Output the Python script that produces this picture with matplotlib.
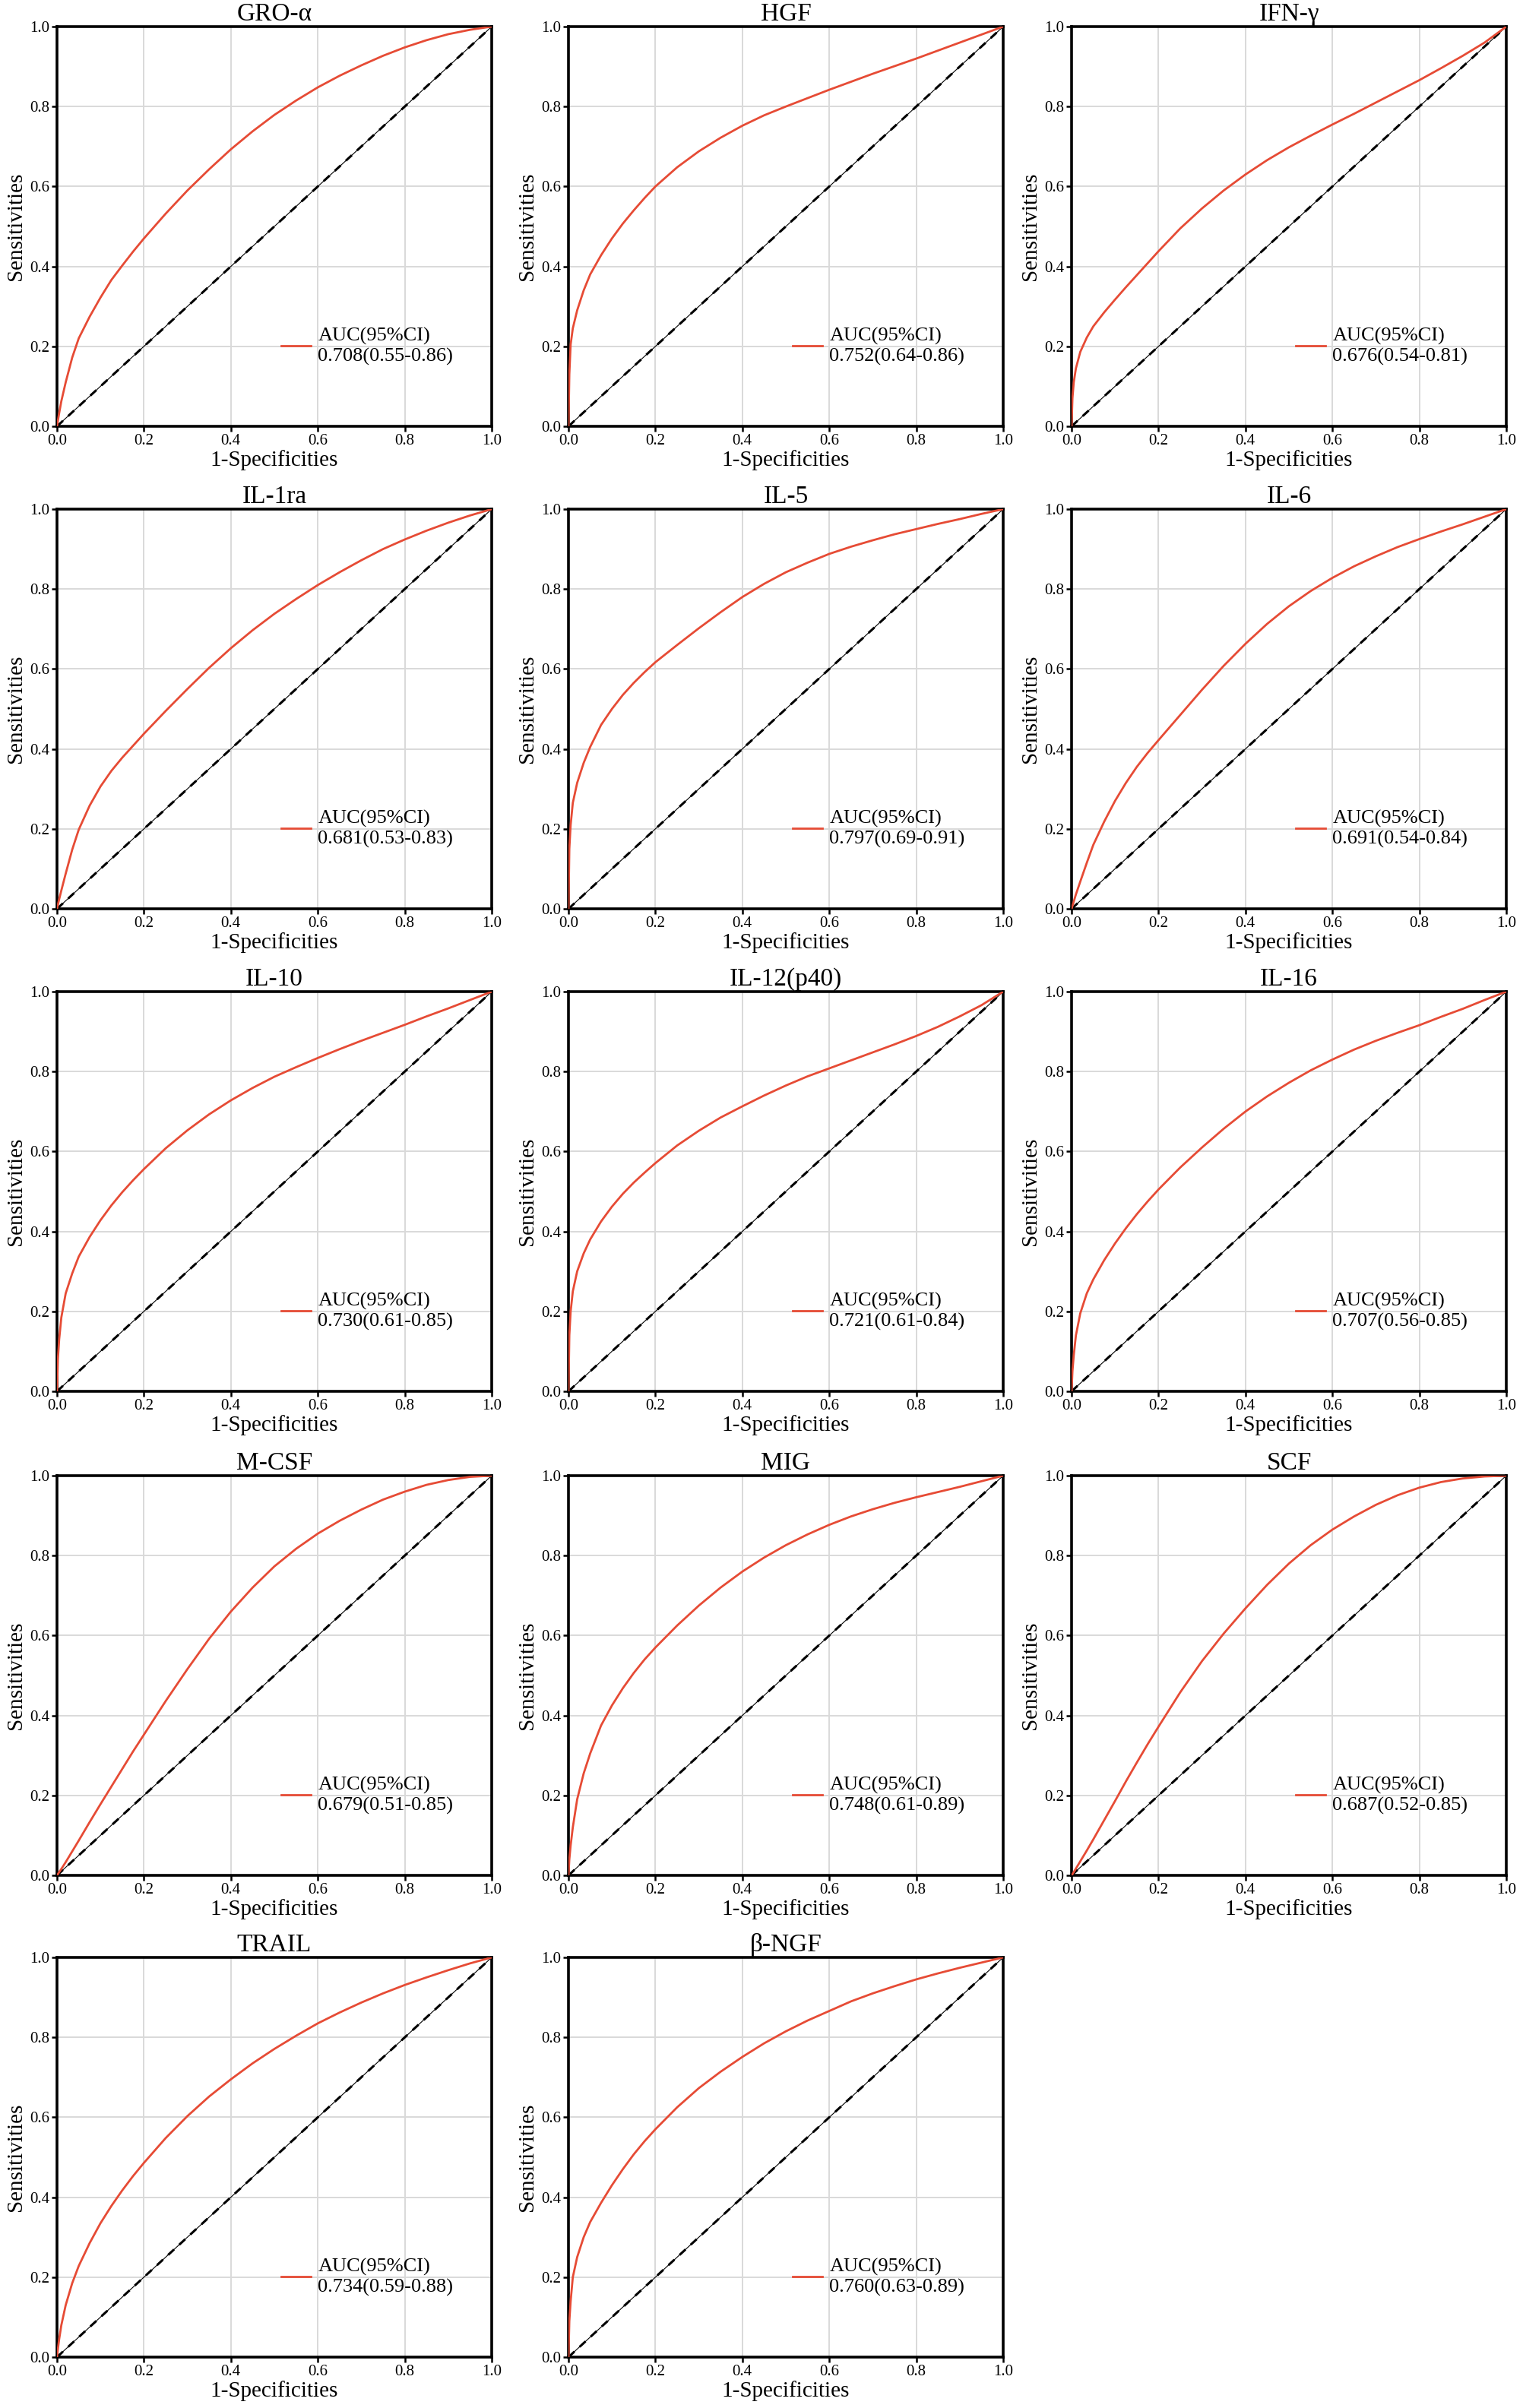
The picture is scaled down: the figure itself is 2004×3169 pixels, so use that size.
import numpy as np
import matplotlib
matplotlib.use("Agg")
import matplotlib.pyplot as plt

plt.rcParams['font.family'] = ['Liberation Serif', 'DejaVu Serif']

# false positive rates shared by every curve
fpr = [0, 0.002, 0.005, 0.01, 0.02, 0.035, 0.05, 0.075, 0.1, 0.125, 0.15, 0.175, 0.2,
       0.25, 0.3, 0.35, 0.4, 0.45, 0.5, 0.55, 0.6, 0.65, 0.7, 0.75, 0.8, 0.85, 0.9, 0.95, 1.0]

markers = ["GRO-α", "HGF", "IFN-γ", "IL-1ra", "IL-5", "IL-6", "IL-10", "IL-12(p40)",
           "IL-16", "M-CSF", "MIG", "SCF", "TRAIL", "β-NGF"]

auc_text = ["0.708(0.55-0.86)", "0.752(0.64-0.86)", "0.676(0.54-0.81)",
            "0.681(0.53-0.83)", "0.797(0.69-0.91)", "0.691(0.54-0.84)",
            "0.730(0.61-0.85)", "0.721(0.61-0.84)", "0.707(0.56-0.85)",
            "0.679(0.51-0.85)", "0.748(0.61-0.89)", "0.687(0.52-0.85)",
            "0.734(0.59-0.88)", "0.760(0.63-0.89)"]

tpr_gro = [0, .014, .033, .063, .11, .172, .22, .274, .322, .366, .402, .437, .47,
           .532, .59, .643, .693, .738, .779, .815, .848, .877, .903, .927, .948, .966, .981, .992, 1]
tpr_hgf = [0, .13, .205, .245, .29, .34, .38, .428, .47, .507, .54, .571, .6,
           .648, .688, .722, .752, .778, .8, .821, .842, .862, .882, .901, .92, .94, .96, .98, 1]
tpr_ifn = [0, .07, .11, .145, .186, .222, .25, .285, .317, .348, .378, .408, .438,
           .495, .545, .59, .63, .666, .698, .727, .755, .782, .81, .838, .866, .896, .927, .96, 1]
tpr_il1ra = [0, .01, .024, .046, .088, .148, .198, .258, .306, .345, .378, .408, .438,
             .495, .55, .603, .652, .697, .738, .775, .81, .842, .872, .9, .924, .946, .966, .984, 1]
tpr_il5 = [0, .15, .21, .265, .315, .365, .405, .46, .5, .535, .565, .592, .617,
           .66, .702, .742, .78, .813, .842, .866, .888, .906, .922, .937, .95, .963, .975, .988, 1]
tpr_il6 = [0, .007, .018, .036, .068, .115, .16, .218, .27, .315, .355, .39, .422,
           .485, .548, .608, .663, .713, .757, .795, .828, .857, .882, .905, .925, .944, .962, .981, 1]
tpr_il10 = [0, .08, .13, .185, .245, .295, .337, .386, .428, .465, .498, .528, .556,
            .608, .653, .693, .728, .759, .787, .811, .834, .856, .877, .897, .917, .938, .958, .979, 1]
tpr_il12 = [0, .14, .2, .25, .3, .345, .38, .425, .462, .494, .522, .547, .571,
            .615, .652, .685, .713, .74, .765, .788, .808, .828, .848, .868, .889, .912, .938, .966, 1]
tpr_il16 = [0, .05, .09, .14, .195, .245, .28, .328, .37, .408, .443, .475, .505,
            .56, .61, .657, .7, .738, .772, .803, .83, .855, .877, .897, .916, .937, .957, .979, 1]
tpr_mcsf = [0, .003, .008, .016, .033, .06, .087, .133, .178, .222, .266, .31, .352,
            .436, .516, .592, .66, .72, .773, .817, .855, .887, .915, .94, .96, .977, .989, .997, 1]
tpr_mig = [0, .04, .075, .12, .19, .255, .305, .375, .425, .468, .506, .54, .57,
           .625, .675, .72, .76, .795, .826, .853, .877, .898, .916, .932, .946, .959, .972, .986, 1]
tpr_scf = [0, .003, .008, .017, .035, .062, .09, .138, .186, .235, .282, .328, .372,
           .458, .536, .605, .668, .727, .78, .826, .865, .898, .927, .951, .97, .984, .993, .998, 1]
tpr_trail = [0, .02, .045, .08, .13, .185, .228, .285, .335, .378, .417, .453, .486,
             .548, .603, .652, .695, .735, .771, .804, .835, .862, .887, .91, .931, .95, .968, .985, 1]
tpr_ngf = [0, .09, .14, .2, .25, .3, .338, .386, .43, .47, .507, .54, .57,
           .625, .673, .714, .751, .785, .815, .842, .866, .89, .91, .928, .945, .96, .974, .987, 1]

tprs = [tpr_gro, tpr_hgf, tpr_ifn, tpr_il1ra, tpr_il5, tpr_il6, tpr_il10, tpr_il12,
        tpr_il16, tpr_mcsf, tpr_mig, tpr_scf, tpr_trail, tpr_ngf]

W, H = 2004, 3169
fig = plt.figure(figsize=(W / 200, H / 200), dpi=200)

col_left = [75, 748, 1410]
row_top = [35, 670, 1305, 1942, 2576]
ax_w, ax_h = 572, 526
red = "#E64B35"
ticks = [0, 0.2, 0.4, 0.6, 0.8, 1.0]

for i, name in enumerate(markers):
    r, c = divmod(i, 3)
    ax = fig.add_axes([col_left[c] / W, 1 - (row_top[r] + ax_h) / H, ax_w / W, ax_h / H])
    ax.plot([0, 1], [0, 1], color="black", lw=0.4, zorder=2)
    ax.plot([0, 1], [0, 1], color="black", lw=1.1, dashes=(3.5, 3), zorder=2)
    ax.plot(fpr, tprs[i], color=red, lw=1.0, zorder=3,
            label="AUC(95%CI)\n" + auc_text[i])
    ax.set_xlim(0, 1)
    ax.set_ylim(0, 1)
    ax.set_xticks(ticks)
    ax.set_yticks(ticks)
    ax.set_xticklabels([f"{t:.1f}" for t in ticks])
    ax.set_yticklabels([f"{t:.1f}" for t in ticks])
    ax.grid(True, color="#d9d9d9", lw=0.7, zorder=0)
    ax.set_axisbelow(True)
    for s in ax.spines.values():
        s.set_linewidth(1.3)
    ax.tick_params(labelsize=7.5, length=2.5, width=0.9, pad=1)
    ax.set_title(name, fontsize=12, pad=3)
    ax.set_xlabel("1-Specificities", fontsize=10.5, labelpad=1)
    ax.set_ylabel("Sensitivities", fontsize=10.5, labelpad=2)
    ax.legend(loc="center left", bbox_to_anchor=(0.515, 0.2), frameon=False,
              fontsize=9.5, handlelength=1.5, handletextpad=0.35,
              borderpad=0, borderaxespad=0)

fig.savefig("out.png", dpi=200)
